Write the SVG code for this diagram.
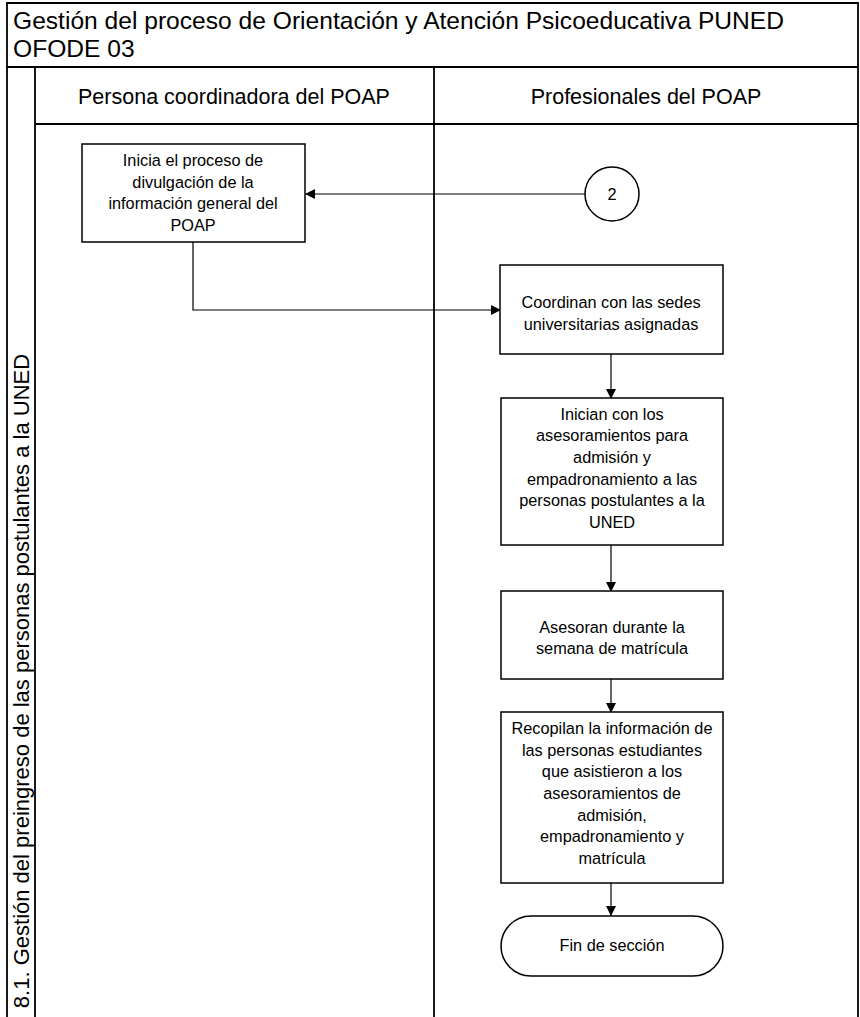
<svg xmlns="http://www.w3.org/2000/svg" width="860" height="1017" viewBox="0 0 860 1017">
<style>
text{font-family:"Liberation Sans",Arial,sans-serif;fill:#000}
.t{font-size:24.6px}
.h{font-size:21.5px;text-anchor:middle}
.n{font-size:16.3px;text-anchor:middle}
.box{fill:#fff;stroke:#000;stroke-width:1.5}
.fr{fill:none;stroke:#000;stroke-width:1.8}
.c{fill:none;stroke:#000;stroke-width:1.2}
</style>
<defs>
<marker id="ah" markerWidth="10" markerHeight="10" refX="9" refY="5" orient="auto" markerUnits="userSpaceOnUse">
<path d="M0,0 L10,5 L0,10 z" fill="#000"/>
</marker>
</defs>
<rect x="0" y="0" width="860" height="1017" fill="#fff"/>
<g id="frame">
<path class="fr" d="M7,1017 V3 H858 V1017 M7,67 H858 M35,67 V1017 M434,67 V1017 M35,124 H858"/>
<text class="t" x="13" y="29">Gestión del proceso de Orientación y Atención Psicoeducativa PUNED</text>
<text class="t" x="13" y="57">OFODE 03</text>
<text class="h" x="234" y="104">Persona coordinadora del POAP</text>
<text class="h" x="646" y="104">Profesionales del POAP</text>
<text class="t" style="font-size:22px" transform="translate(29,681) rotate(-90)" text-anchor="middle">8.1. Gestión del preingreso de las personas postulantes a la UNED</text>
</g>
<g id="connectors">
<path class="c" d="M585,194 H306" marker-end="url(#ah)"/>
<path class="c" d="M193,242 V310 H500" marker-end="url(#ah)"/>
<path class="c" d="M611,354 V398" marker-end="url(#ah)"/>
<path class="c" d="M611,545 V591" marker-end="url(#ah)"/>
<path class="c" d="M611,679 V712" marker-end="url(#ah)"/>
<path class="c" d="M611,883 V915" marker-end="url(#ah)"/>
</g>
<g id="n1">
<rect class="box" x="82" y="144" width="223" height="98"/>
<text class="n" x="193" y="166">Inicia el proceso de</text>
<text class="n" x="193" y="188">divulgación de la</text>
<text class="n" x="193" y="209">información general del</text>
<text class="n" x="193" y="231">POAP</text>
</g>
<g id="c2">
<circle cx="612" cy="194" r="27" fill="#fff" stroke="#000" stroke-width="1.5"/>
<text class="n" x="612" y="200">2</text>
</g>
<g id="n2">
<rect class="box" x="500" y="265" width="223" height="89"/>
<text class="n" x="611" y="308">Coordinan con las sedes</text>
<text class="n" x="611" y="330">universitarias asignadas</text>
</g>
<g id="n3">
<rect class="box" x="501" y="398" width="222" height="147"/>
<text class="n" x="612" y="420">Inician con los</text>
<text class="n" x="612" y="441">asesoramientos para</text>
<text class="n" x="612" y="463">admisión y</text>
<text class="n" x="612" y="485">empadronamiento a las</text>
<text class="n" x="612" y="506">personas postulantes a la</text>
<text class="n" x="612" y="528">UNED</text>
</g>
<g id="n4">
<rect class="box" x="501" y="591" width="222" height="88"/>
<text class="n" x="612" y="633">Asesoran  durante la</text>
<text class="n" x="612" y="654">semana de matrícula</text>
</g>
<g id="n5">
<rect class="box" x="501" y="712" width="222" height="171"/>
<text class="n" x="612" y="734">Recopilan la información de</text>
<text class="n" x="612" y="756">las personas estudiantes</text>
<text class="n" x="612" y="777">que asistieron a los</text>
<text class="n" x="612" y="799">asesoramientos de</text>
<text class="n" x="612" y="821">admisión,</text>
<text class="n" x="612" y="842">empadronamiento y</text>
<text class="n" x="612" y="864">matrícula</text>
</g>
<g id="end">
<rect class="box" x="501" y="916" width="222" height="60" rx="30" ry="30"/>
<text class="n" x="612" y="951">Fin de sección</text>
</g>
</svg>
